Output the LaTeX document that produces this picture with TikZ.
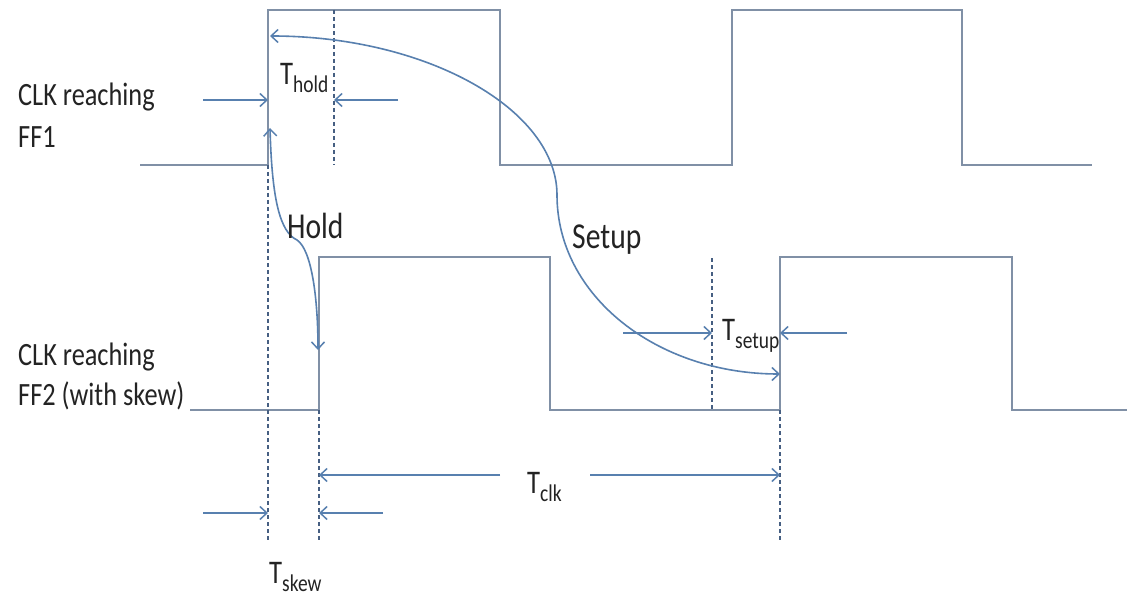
\documentclass[tikz,border=0pt]{standalone}
\usepackage{fontspec}
\setmainfont{Carlito}[FakeStretch=0.81]
\usetikzlibrary{arrows.meta}
\definecolor{wave}{RGB}{128,144,166}
\definecolor{arr}{RGB}{88,128,175}
\definecolor{dsh}{RGB}{70,95,130}
\definecolor{txt}{RGB}{35,35,35}
\newcommand\tsub[2]{T\raisebox{-8pt}{\fontsize{#2}{#2}\selectfont #1}}
\begin{document}
\begin{tikzpicture}[x=1pt,y=-1pt,
  wavel/.style={draw=wave,line width=2.9pt},
  barb/.tip={Straight Barb[length=7pt,width=13pt,line width=1.5pt]},
  dimarrow/.style={draw=arr,line width=1.8pt,-barb},
  guide/.style={draw=dsh,line width=1.3pt,dash pattern=on 4pt off 3pt},
  flow/.style={draw=arr,line width=1.6pt,barb-barb},
  lbl/.style={text=txt,font=\fontsize{32.5}{39}\selectfont,inner sep=0pt,anchor=base west},
  big/.style={text=txt,font=\fontsize{36.5}{44}\selectfont,inner sep=0pt,anchor=base west},
  tlab/.style={text=txt,font=\fontsize{33}{40}\selectfont,inner sep=0pt,anchor=base west}
]
\useasboundingbox (0,0) rectangle (1127,596);
\fill[white] (0,0) rectangle (1127,596);

% waveforms
\draw[wavel] (140,165) -- (268,165) -- (268,10) -- (500,10) -- (500,165) -- (732,165) -- (732,10) -- (962,10) -- (962,165) -- (1092,165);
\draw[wavel] (190,410) -- (319,410) -- (319,257) -- (550,257) -- (550,410) -- (780,410) -- (780,257) -- (1012,257) -- (1012,410) -- (1127,410);

% guide lines
\draw[guide] (268,165) -- (268,540);
\draw[guide] (334,10) -- (334,165);
\draw[guide] (319,410) -- (319,540);
\draw[guide] (712,258) -- (712,410);
\draw[guide] (780,410) -- (780,540);

% named points
\coordinate (holdL) at (268,100);
\coordinate (holdR) at (334,100);
\coordinate (holdLs) at (203,100);
\coordinate (holdRs) at (398,100);
\coordinate (setL) at (712,333);
\coordinate (setR) at (780,333);
\coordinate (setLs) at (623,333);
\coordinate (setRs) at (847,333);
\coordinate (clkL) at (319,475);
\coordinate (clkR) at (780,475);
\coordinate (clkLs) at (500,475);
\coordinate (clkRs) at (590,475);
\coordinate (skL) at (268,513);
\coordinate (skR) at (319,513);
\coordinate (skLs) at (203,513);
\coordinate (skRs) at (383,513);
\coordinate (hA) at (270,128);
\coordinate (hB) at (318,350);
\coordinate (sA) at (270,36);
\coordinate (sB) at (780,374);

% dimension arrows
\draw[dimarrow] (holdLs) -- (holdL);
\draw[dimarrow] (holdRs) -- (holdR);
\draw[dimarrow] (setLs) -- (setL);
\draw[dimarrow] (setRs) -- (setR);
\draw[dimarrow] (clkLs) -- (clkL);
\draw[dimarrow] (clkRs) -- (clkR);
\draw[dimarrow] (skLs) -- (skL);
\draw[dimarrow] (skRs) -- (skR);

% hold and setup paths
\draw[flow] (hA) .. controls (272,200) and (280,232) .. (297,240) .. controls (312,250) and (318,300) .. (hB);
\draw[flow] (sA) .. controls (428,36) and (557,110) .. (557,195) .. controls (557,296) and (657,374) .. (sB);

% labels
\node[lbl] (l1a) at (18,106) {CLK reaching};
\node[lbl] (l1b) at (18,148) {FF1};
\node[lbl] (l2a) at (18,365) {CLK reaching};
\node[lbl] (l2b) at (18,405) {FF2 (with skew)};
\node[big] (hold) at (287,238) {Hold};
\node[big] (setup) at (572,248) {Setup};
\node[tlab] (thold) at (280,85) {\tsub{hold}{24}};
\node[tlab] (tsetup) at (722,340) {\tsub{setup}{24}};
\node[tlab] (tclk) at (527,493) {\tsub{clk}{24}};
\node[tlab] (tskew) at (269,583) {\tsub{skew}{24}};
\end{tikzpicture}
\end{document}
